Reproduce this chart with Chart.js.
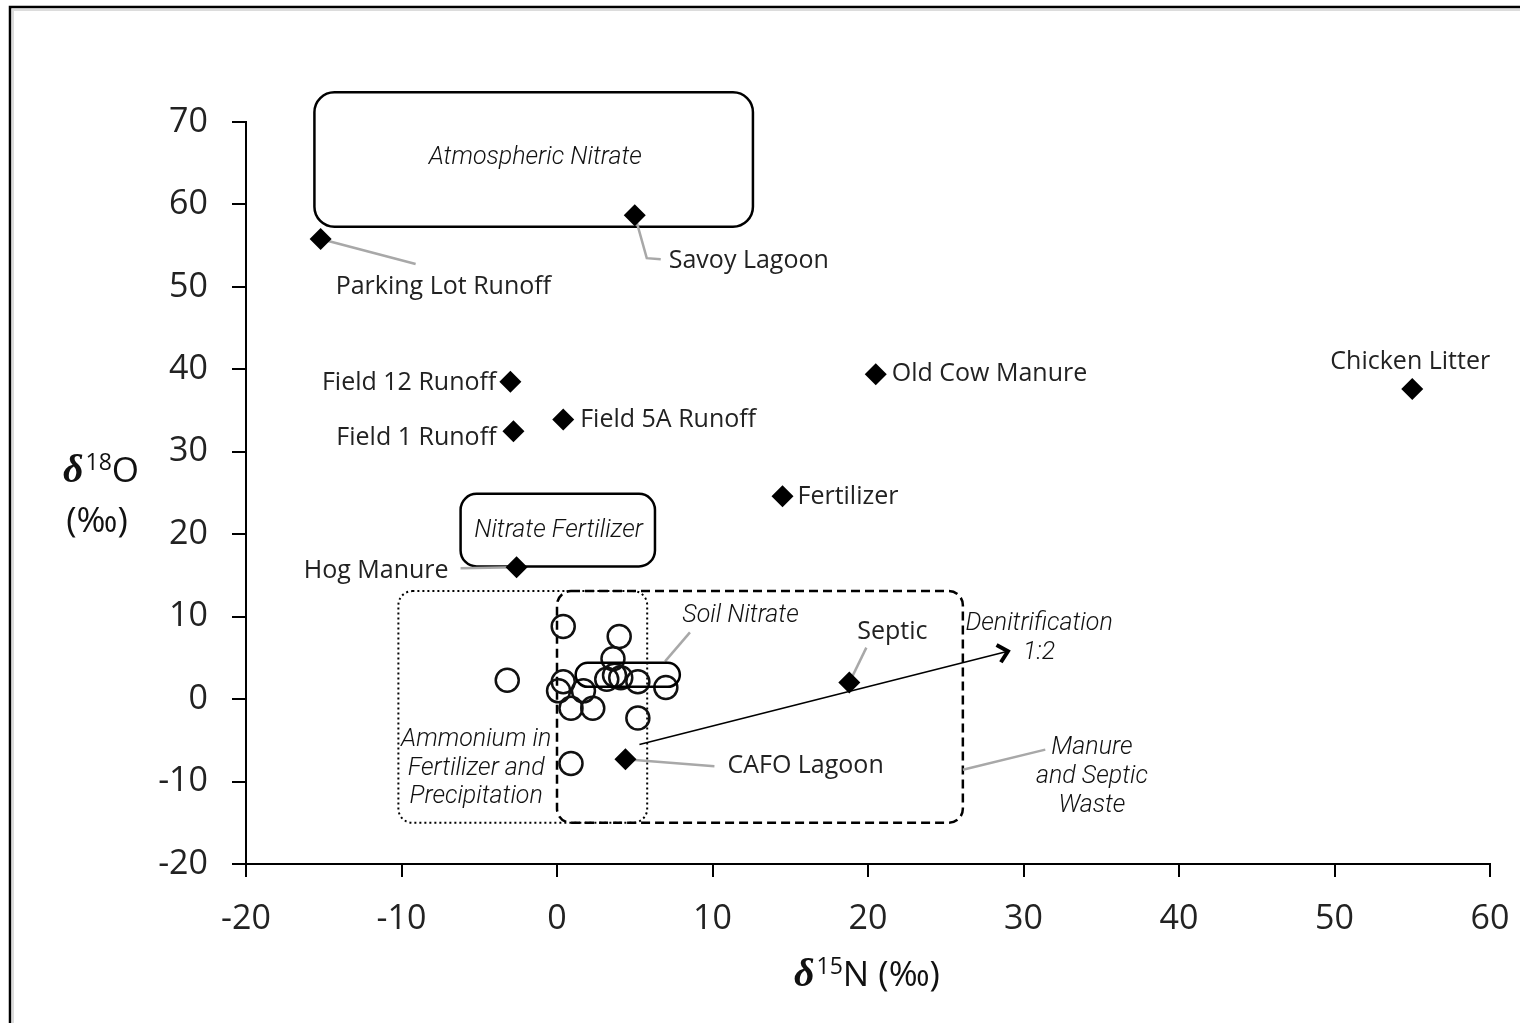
<!DOCTYPE html>
<html>
<head>
<meta charset="utf-8">
<script src="https://cdn.jsdelivr.net/npm/chart.js@4.4.1/dist/chart.umd.min.js"></script>
<style>
  html, body { margin: 0; padding: 0; background: #fff; }
  #wrap { width: 1520px; height: 1023px; position: relative; }
</style>
</head>
<body>
<div id="wrap"><canvas id="c" width="1520" height="1023"></canvas></div>
<script>
// Nitrate sources (δ15N, δ18O in per mil)
const sourceNames = ['Parking Lot Runoff', 'Savoy Lagoon', 'Field 12 Runoff', 'Field 1 Runoff',
  'Field 5A Runoff', 'Old Cow Manure', 'Chicken Litter', 'Fertilizer', 'Hog Manure', 'Septic', 'CAFO Lagoon'];
const sourceN = [-15.2, 5.0, -3.0, -2.8, 0.4, 20.5, 55.0, 14.5, -2.6, 18.8, 4.4];
const sourceO = [55.8, 58.7, 38.5, 32.5, 33.9, 39.4, 37.6, 24.6, 16.0, 2.0, -7.3];

// Water samples
const sampleN = [0.4, 4.0, 3.6, -3.2, 0.4, 0.1, 1.7, 0.9, 2.3, 3.2, 3.7, 4.1, 5.2, 7.0, 5.2, 0.9];
const sampleO = [8.8, 7.6, 4.9, 2.3, 2.1, 1.0, 1.0, -1.1, -1.1, 2.4, 2.9, 2.6, 2.1, 1.4, -2.3, -7.8];

// Axis ticks
const xTicks = [-20, -10, 0, 10, 20, 30, 40, 50, 60];
const yTicks = [-20, -10, 0, 10, 20, 30, 40, 50, 60, 70];

// Source-region outlines, in data units: [xMin, xMax, yMin, yMax]
const atmosphericBox = [-15.6, 12.6, 57.3, 73.6];
const fertilizerBox = [-6.2, 6.3, 16.1, 24.9];
const soilBox = [1.2, 7.9, 1.5, 4.4];
const ammoniumBox = [-10.2, 5.8, -15.0, 13.1];
const manureBox = [0, 26.1, -15.0, 13.1];

// Denitrification trend (1:2), start and end in data units
const denitrFrom = [5.3, -5.5];
const denitrTo = [29.0, 5.8];

// Label placement for each source point (pixel offsets from the point)
const labelPlacement = {
  'Parking Lot Runoff': { dx: 15, dy: 48, align: 'left', leader: [[0, 0], [95, 25]] },
  'Savoy Lagoon': { dx: 34, dy: 46, align: 'left', leader: [[0, 0], [12, 43], [26, 44]] },
  'Field 12 Runoff': { dx: -14, dy: 1, align: 'right' },
  'Field 1 Runoff': { dx: -17, dy: 7, align: 'right' },
  'Field 5A Runoff': { dx: 17, dy: 0, align: 'left' },
  'Old Cow Manure': { dx: 16, dy: 0, align: 'left' },
  'Chicken Litter': { dx: -2, dy: -27, align: 'center' },
  'Fertilizer': { dx: 15, dy: 1, align: 'left' },
  'Hog Manure': { dx: -68, dy: 4, align: 'right', leader: [[0, 0], [-56, 1]] },
  'Septic': { dx: 43, dy: -51, align: 'center', leader: [[0, 0], [17, -35]] },
  'CAFO Lagoon': { dx: 102, dy: 7, align: 'left', leader: [[0, 0], [89, 7]] }
};

const LABEL_FONT = '25px "Open Sans", sans-serif';
const NOTE_FONT = 'italic 300 25px Roboto, "Liberation Sans", sans-serif';
const LEADER = '#a8a8a8';

function roundBox(ctx, x0, y0, x1, y1, r) {
  const w = x1 - x0, h = y1 - y0;
  r = Math.min(r, w / 2, h / 2);
  ctx.beginPath();
  ctx.moveTo(x0 + r, y0);
  ctx.lineTo(x1 - r, y0);
  ctx.arcTo(x1, y0, x1, y0 + r, r);
  ctx.lineTo(x1, y1 - r);
  ctx.arcTo(x1, y1, x1 - r, y1, r);
  ctx.lineTo(x0 + r, y1);
  ctx.arcTo(x0, y1, x0, y1 - r, r);
  ctx.lineTo(x0, y0 + r);
  ctx.arcTo(x0, y0, x0 + r, y0, r);
  ctx.closePath();
}

function drawRegion(chart, box, radius, dash, width) {
  const { ctx, scales: { x, y } } = chart;
  const x0 = x.getPixelForValue(box[0]), x1 = x.getPixelForValue(box[1]);
  const y0 = y.getPixelForValue(box[3]), y1 = y.getPixelForValue(box[2]);
  ctx.save();
  ctx.strokeStyle = '#000';
  ctx.lineWidth = width;
  ctx.setLineDash(dash);
  roundBox(ctx, x0, y0, x1, y1, radius);
  ctx.stroke();
  ctx.restore();
}

function noteText(chart, lines, xv, yv, spacing) {
  const { ctx, scales: { x, y } } = chart;
  const px = x.getPixelForValue(xv), py = y.getPixelForValue(yv);
  ctx.save();
  ctx.font = NOTE_FONT;
  ctx.fillStyle = '#111';
  ctx.textAlign = 'center';
  ctx.textBaseline = 'middle';
  lines.forEach((t, i) => ctx.fillText(t, px, py + i * spacing));
  ctx.restore();
}

function leaderData(chart, a, b) {
  const { ctx, scales: { x, y } } = chart;
  ctx.save();
  ctx.strokeStyle = LEADER;
  ctx.lineWidth = 2.5;
  ctx.beginPath();
  ctx.moveTo(x.getPixelForValue(a[0]), y.getPixelForValue(a[1]));
  ctx.lineTo(x.getPixelForValue(b[0]), y.getPixelForValue(b[1]));
  ctx.stroke();
  ctx.restore();
}

function drawRich(ctx, parts, cx, baseY) {
  let total = 0;
  parts.forEach(p => { ctx.font = p.font; p.w = ctx.measureText(p.text).width; total += p.w + (p.gap || 0); });
  let px = cx - total / 2;
  parts.forEach(p => {
    ctx.font = p.font;
    ctx.fillText(p.text, px, baseY + (p.dy || 0));
    px += p.w + (p.gap || 0);
  });
}

const decorations = {
  id: 'decorations',
  beforeDraw(chart) {
    const { ctx } = chart;
    ctx.save();
    ctx.fillStyle = '#fff';
    ctx.fillRect(0, 0, chart.width, chart.height);
    // picture frame
    ctx.strokeStyle = '#dcdcdc';
    ctx.lineWidth = 2;
    ctx.strokeRect(13, 10, 1530, 1040);
    ctx.strokeStyle = '#000';
    ctx.lineWidth = 2.5;
    ctx.strokeRect(10, 7, 1540, 1050);
    ctx.restore();
  },
  beforeDatasetsDraw(chart) {
    const { ctx, scales: { x, y } } = chart;
    drawRegion(chart, atmosphericBox, 20, [], 2.5);
    drawRegion(chart, fertilizerBox, 16, [], 2.5);
    drawRegion(chart, ammoniumBox, 14, [2, 3], 2);
    drawRegion(chart, manureBox, 14, [9, 5], 2.5);

    noteText(chart, ['Atmospheric Nitrate'], -1.4, 65.7, 0);
    noteText(chart, ['Nitrate Fertilizer'], 0.1, 20.4, 0);
    noteText(chart, ['Soil Nitrate'], 11.8, 10.1, 0);
    noteText(chart, ['Ammonium in', 'Fertilizer and', 'Precipitation'], -5.2, -4.95, 28.5);
    noteText(chart, ['Manure', 'and Septic', 'Waste'], 34.4, -5.9, 29);
    noteText(chart, ['Denitrification', '1:2'], 31.0, 9.15, 29);

    leaderData(chart, [6.95, 4.57], [8.55, 8.09]);
    leaderData(chart, [26.1, -8.56], [31.4, -6.13]);

    // source label leaders
    ctx.save();
    ctx.strokeStyle = LEADER;
    ctx.lineWidth = 2.5;
    sourceNames.forEach((name, i) => {
      const lp = labelPlacement[name];
      if (!lp.leader) return;
      const px = x.getPixelForValue(sourceN[i]), py = y.getPixelForValue(sourceO[i]);
      ctx.beginPath();
      lp.leader.forEach(([dx, dy], k) => k ? ctx.lineTo(px + dx, py + dy) : ctx.moveTo(px + dx, py + dy));
      ctx.stroke();
    });
    ctx.restore();
  },
  afterDatasetsDraw(chart) {
    const { ctx, scales: { x, y } } = chart;
    // soil nitrate outline sits over the samples
    drawRegion(chart, soilBox, 13, [], 2.5);

    // denitrification arrow
    const ax = x.getPixelForValue(denitrFrom[0]), ay = y.getPixelForValue(denitrFrom[1]);
    const bx = x.getPixelForValue(denitrTo[0]), by = y.getPixelForValue(denitrTo[1]);
    const ang = Math.atan2(by - ay, bx - ax);
    ctx.save();
    ctx.strokeStyle = '#000';
    ctx.lineWidth = 1.6;
    ctx.beginPath();
    ctx.moveTo(ax, ay);
    ctx.lineTo(bx, by);
    ctx.stroke();
    ctx.lineWidth = 4;
    ctx.lineJoin = 'miter';
    const head = 13;
    ctx.beginPath();
    ctx.moveTo(bx - head * Math.cos(ang - 0.75), by - head * Math.sin(ang - 0.75));
    ctx.lineTo(bx, by);
    ctx.lineTo(bx - head * Math.cos(ang + 0.75), by - head * Math.sin(ang + 0.75));
    ctx.stroke();
    ctx.restore();

    // source labels
    ctx.save();
    ctx.font = LABEL_FONT;
    ctx.fillStyle = '#222';
    ctx.textBaseline = 'middle';
    sourceNames.forEach((name, i) => {
      const lp = labelPlacement[name];
      const px = x.getPixelForValue(sourceN[i]), py = y.getPixelForValue(sourceO[i]);
      ctx.textAlign = lp.align;
      ctx.fillText(name, px + lp.dx, py + lp.dy);
    });
    ctx.restore();
  },
  afterDraw(chart) {
    const { ctx } = chart;
    ctx.save();
    ctx.fillStyle = '#111';
    ctx.textBaseline = 'alphabetic';
    ctx.textAlign = 'left';
    const delta = 'bold italic 40px "Liberation Serif", serif';
    const sup = '23px "Open Sans", sans-serif';
    const body = '35px "Open Sans", sans-serif';
    drawRich(ctx, [
      { text: 'δ', font: delta, gap: 2 },
      { text: '15', font: sup, dy: -12 },
      { text: 'N (‰)', font: body }
    ], 867, 986);
    drawRich(ctx, [
      { text: 'δ', font: delta, gap: 2 },
      { text: '18', font: sup, dy: -12 },
      { text: 'O', font: body }
    ], 101, 482);
    drawRich(ctx, [{ text: '(‰)', font: body }], 97, 532);
    ctx.restore();
  }
};

new Chart(document.getElementById('c'), {
  type: 'scatter',
  data: {
    datasets: [
      {
        label: 'Samples',
        data: sampleN.map((v, i) => ({ x: v, y: sampleO[i] })),
        pointStyle: 'circle',
        pointRadius: 11.5,
        pointHoverRadius: 11.5,
        borderWidth: 2.5,
        borderColor: '#111',
        backgroundColor: 'rgba(0,0,0,0)'
      },
      {
        label: 'Sources',
        data: sourceN.map((v, i) => ({ x: v, y: sourceO[i] })),
        pointStyle: 'rectRot',
        pointRadius: 11,
        pointHoverRadius: 11,
        borderWidth: 0,
        borderColor: '#000',
        backgroundColor: '#000'
      }
    ]
  },
  options: {
    responsive: false,
    animation: false,
    devicePixelRatio: 1,
    events: [],
    layout: { padding: { left: 0, top: 122, right: 30, bottom: 0 } },
    plugins: { legend: { display: false }, tooltip: { enabled: false } },
    scales: {
      x: {
        type: 'linear',
        min: -20, max: 60,
        afterBuildTicks: s => { s.ticks = xTicks.map(v => ({ value: v })); },
        afterFit: s => { s.height = 1023 - 864; s.paddingLeft = 0; s.paddingRight = 0; },
        grid: { display: true, drawOnChartArea: false, drawTicks: true, tickLength: 13, color: '#000', lineWidth: 2 },
        border: { display: true, color: '#000', width: 2 },
        ticks: { color: '#222', font: { family: '"Open Sans", sans-serif', size: 34 }, padding: 22, maxRotation: 0, callback: v => String(v) }
      },
      y: {
        type: 'linear',
        min: -20, max: 70,
        afterBuildTicks: s => { s.ticks = yTicks.map(v => ({ value: v })); },
        afterFit: s => { s.width = 246; s.paddingTop = 0; s.paddingBottom = 0; },
        grid: { display: true, drawOnChartArea: false, drawTicks: true, tickLength: 14, color: '#000', lineWidth: 2 },
        border: { display: true, color: '#000', width: 2 },
        ticks: { color: '#222', font: { family: '"Open Sans", sans-serif', size: 34 }, padding: 24, callback: v => String(v) }
      }
    }
  },
  plugins: [decorations]
});
</script>
</body>
</html>
